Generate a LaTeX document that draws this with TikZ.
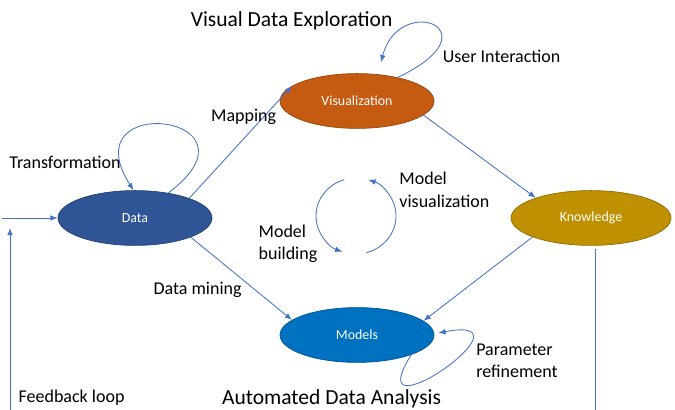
\documentclass[tikz,border=0pt]{standalone}
\usepackage{fontspec}
\setmainfont{Carlito}
\usetikzlibrary{arrows.meta,positioning,calc,shapes.geometric}
\definecolor{datablue}{RGB}{47,85,151}
\definecolor{vizorange}{RGB}{197,90,17}
\definecolor{knowgold}{RGB}{191,144,0}
\definecolor{modelblue}{RGB}{0,112,192}
\definecolor{linkblue}{RGB}{68,114,196}

\begin{document}
\begin{tikzpicture}[
  stage/.style={ellipse, draw=#1!75!black, line width=0.5pt, fill=#1, inner sep=0pt, minimum width=3.85cm, minimum height=1.37cm, text=white, font=\fontsize{9.9}{12}\selectfont},
  flow/.style={-{Latex[length=1.8mm,width=1.4mm]}, draw=linkblue, line width=0.6pt},
  plain/.style={draw=linkblue, line width=0.6pt},
  lbl/.style={font=\fontsize{12.8}{16}\selectfont, align=left, inner sep=0pt},
  heading/.style={font=\fontsize{15.3}{18}\selectfont, inner sep=0pt, anchor=base}
]
\useasboundingbox (0,0) rectangle (16.875,10.25);

% the four stages
\node[stage=datablue] (data) at (3.375,4.8) {Data};
\node[stage=vizorange] (vis) at (8.925,7.725) {Visualization};
\node[stage=knowgold, minimum width=4cm] (know) at (14.775,4.8) {Knowledge};
\node[stage=modelblue] (models) at (8.925,1.875) {Models};

% headings
\node[heading] (explore) at (7.29,9.575) {Visual Data Exploration};
\node[heading] (analysis) at (8.29,0.14) {Automated Data Analysis};

% connectors between stages
\draw[flow] (data.20) -- (vis.167);
\draw[flow] (vis.-12) -- (know.160);
\draw[flow] (data.-19) -- (models.167);
\draw[flow] (know.198) -- (models.12);

% input and feedback
\coordinate (inlet) at (0.05,4.8);
\coordinate (fbfoot) at (0.25,0);
\coordinate (fbtip) at (0.25,4.55);
\coordinate (kend) at (14.875,0);
\coordinate (kstart) at ($(know.south)+(0.1,-0.08)$);
\draw[flow] (inlet) -- (data.west);
\draw[flow] (fbfoot) -- (fbtip);
\draw[plain] (kstart) -- (kstart |- kend);

% self loops
\draw[flow] (data.37) .. controls +(2.6,1.95) and +(-1.6,2.5) .. (data.93);
\draw[flow] (vis.30) .. controls +(2.5,1.2) and +(0.45,1.75) .. ([shift={(0.6,0.275)}]vis.north);
\draw[flow] (models.-20) .. controls +(-1.4,-2.2) and +(2.6,0.5) .. ([shift={(0.1,0.05)}]models.east);

% model building / visualization cycle
\coordinate (cyc) at (8.9,4.85);
\draw[flow] ([shift={(107:1.0cm and 0.95cm)}]cyc) arc[start angle=107, end angle=250, x radius=1.0, y radius=0.95];
\draw[flow] ([shift={(-75:1.0cm and 0.95cm)}]cyc) arc[start angle=-75, end angle=72, x radius=1.0, y radius=0.95];

% labels
\node[lbl] (tlbl) at (1.625,6.2) {Transformation};
\node[lbl] (mlbl) at (6.09,7.325) {Mapping};
\node[lbl] (ulbl) at (12.54,8.85) {User Interaction};
\node[lbl] (mvlbl) at (11.11,5.5) {Model\\visualization};
\node[lbl] (mblbl) at (7.2,4.15) {Model\\building};
\node[lbl] (dmlbl) at (4.94,3.0) {Data mining};
\node[lbl] (prlbl) at (12.925,1.225) {Parameter\\refinement};
\node[lbl] (fblbl) at (1.79,0.3) {Feedback loop};
\end{tikzpicture}
\end{document}
